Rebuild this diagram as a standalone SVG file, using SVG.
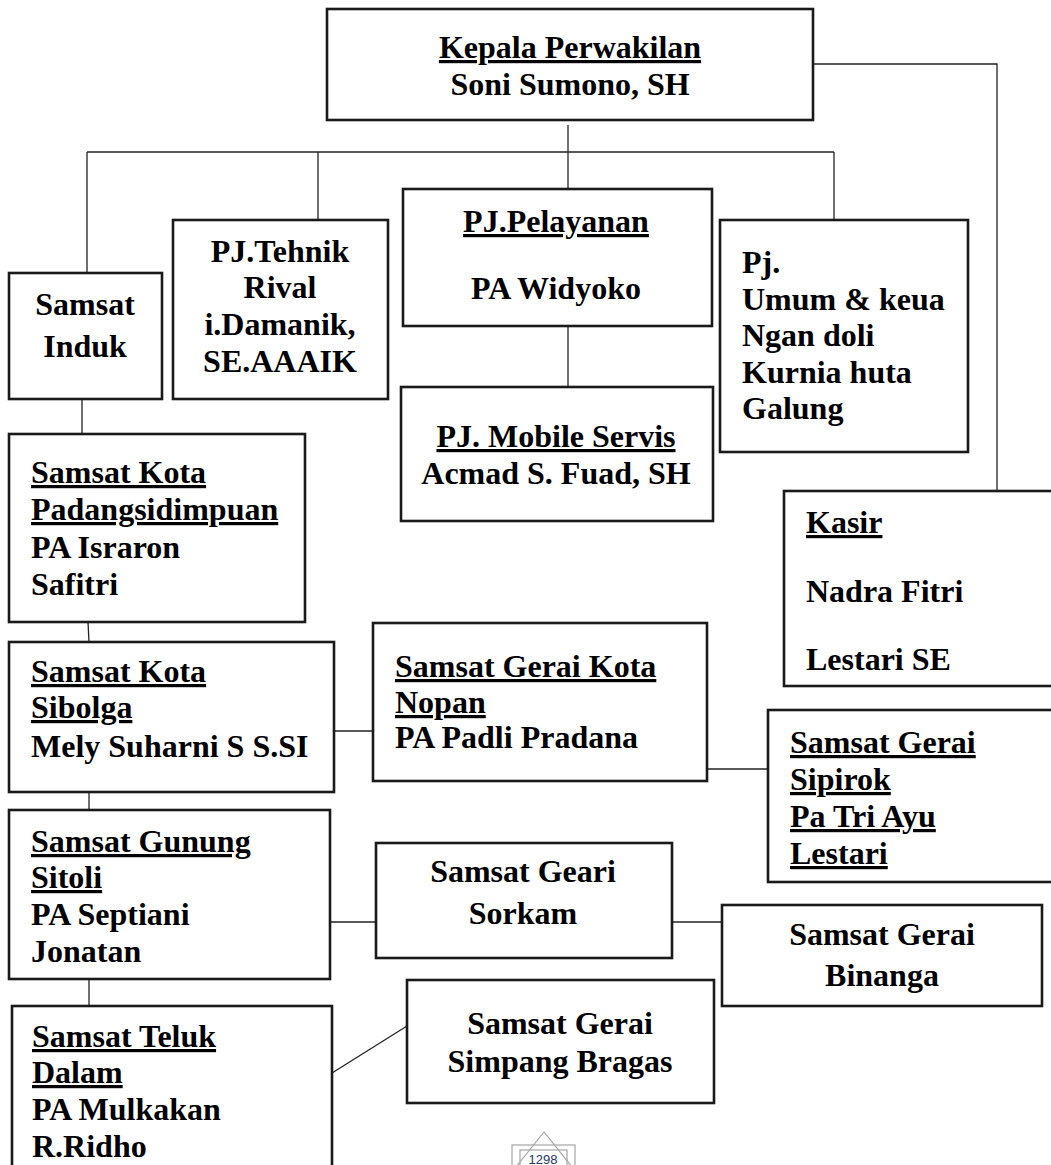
<svg xmlns="http://www.w3.org/2000/svg" width="1051" height="1165" viewBox="0 0 1051 1165">
<style>
.box{fill:#fff;stroke:#1a1a1a;stroke-width:2.6}
.ln{fill:none;stroke:#222;stroke-width:1.3}
.t{font-family:"Liberation Serif","Times New Roman",serif;font-weight:bold;font-size:32px;fill:#000}
.c{text-anchor:middle}
.u{text-decoration:underline;text-decoration-thickness:2.5px}
</style>
<rect width="1051" height="1165" fill="#fff"/>
<g id="connectors">
<path class="ln" d="M813,64 H997 V491"/>
<path class="ln" d="M568,125 V152"/>
<path class="ln" d="M87,152 H834"/>
<path class="ln" d="M87,152 V273"/>
<path class="ln" d="M318,152 V220"/>
<path class="ln" d="M568,152 V189"/>
<path class="ln" d="M834,152 V220"/>
<path class="ln" d="M568,326 V387"/>
<path class="ln" d="M82,399 V434"/>
<path class="ln" d="M88,622 L89,642"/>
<path class="ln" d="M89,782 V810"/>
<path class="ln" d="M89,979 V1006"/>
<path class="ln" d="M334,731 H373"/>
<path class="ln" d="M707,769 H768"/>
<path class="ln" d="M330,922 H376"/>
<path class="ln" d="M672,922 H722"/>
<path class="ln" d="M332,1073 L407,1026"/>
</g>
<g id="kepala">
<rect class="box" x="327" y="9" width="486" height="111"/>
<text class="t c u" x="570" y="58">Kepala Perwakilan</text>
<text class="t c" x="570" y="95">Soni Sumono, SH</text>
</g>
<g id="samsat-induk">
<rect class="box" x="9" y="273" width="153" height="126"/>
<text class="t c" x="85" y="315">Samsat</text>
<text class="t c" x="85" y="357">Induk</text>
</g>
<g id="pj-tehnik">
<rect class="box" x="173" y="220" width="215" height="179"/>
<text class="t c" x="280" y="262">PJ.Tehnik</text>
<text class="t c" x="280" y="298">Rival</text>
<text class="t c" x="280" y="335">i.Damanik,</text>
<text class="t c" x="280" y="372">SE.AAAIK</text>
</g>
<g id="pj-pelayanan">
<rect class="box" x="403" y="189" width="309" height="137"/>
<text class="t c u" x="556" y="232">PJ.Pelayanan</text>
<text class="t c" x="556" y="299">PA Widyoko</text>
</g>
<g id="pj-mobile">
<rect class="box" x="401" y="387" width="312" height="134"/>
<text class="t c u" x="556" y="447">PJ. Mobile Servis</text>
<text class="t c" x="556" y="484">Acmad S. Fuad, SH</text>
</g>
<g id="pj-umum">
<rect class="box" x="720" y="220" width="248" height="232"/>
<text class="t" x="742" y="273">Pj.</text>
<text class="t" x="742" y="310">Umum &amp; keua</text>
<text class="t" x="742" y="346">Ngan doli</text>
<text class="t" x="742" y="383">Kurnia huta</text>
<text class="t" x="742" y="419">Galung</text>
</g>
<g id="kasir">
<rect class="box" x="784" y="491" width="290" height="195"/>
<text class="t u" x="806" y="533">Kasir</text>
<text class="t" x="806" y="602">Nadra Fitri</text>
<text class="t" x="806" y="670">Lestari SE</text>
</g>
<g id="samsat-padangsidimpuan">
<rect class="box" x="9" y="434" width="296" height="188"/>
<text class="t u" x="31" y="483">Samsat Kota</text>
<text class="t u" x="31" y="520">Padangsidimpuan</text>
<text class="t" x="31" y="558">PA Israron</text>
<text class="t" x="31" y="595">Safitri</text>
</g>
<g id="samsat-sibolga">
<rect class="box" x="9" y="642" width="325" height="150"/>
<text class="t u" x="31" y="682">Samsat Kota</text>
<text class="t u" x="31" y="718">Sibolga</text>
<text class="t" x="31" y="757">Mely Suharni S S.SI</text>
</g>
<g id="gerai-nopan">
<rect class="box" x="373" y="623" width="334" height="158"/>
<text class="t u" x="395" y="677">Samsat Gerai Kota</text>
<text class="t u" x="395" y="713">Nopan</text>
<text class="t" x="395" y="748">PA Padli Pradana</text>
</g>
<g id="gerai-sipirok">
<rect class="box" x="768" y="710" width="300" height="172"/>
<text class="t u" x="790" y="753">Samsat Gerai</text>
<text class="t u" x="790" y="790">Sipirok</text>
<text class="t u" x="790" y="827">Pa Tri Ayu</text>
<text class="t u" x="790" y="864">Lestari</text>
</g>
<g id="samsat-gunung-sitoli">
<rect class="box" x="9" y="810" width="321" height="169"/>
<text class="t u" x="31" y="852">Samsat Gunung</text>
<text class="t u" x="31" y="888">Sitoli</text>
<text class="t" x="31" y="925">PA Septiani</text>
<text class="t" x="31" y="962">Jonatan</text>
</g>
<g id="geari-sorkam">
<rect class="box" x="376" y="843" width="296" height="115"/>
<text class="t c" x="523" y="882">Samsat Geari</text>
<text class="t c" x="523" y="924">Sorkam</text>
</g>
<g id="gerai-binanga">
<rect class="box" x="722" y="905" width="320" height="101"/>
<text class="t c" x="882" y="945">Samsat Gerai</text>
<text class="t c" x="882" y="986">Binanga</text>
</g>
<g id="samsat-teluk-dalam">
<rect class="box" x="12" y="1006" width="320" height="175"/>
<text class="t u" x="32" y="1047">Samsat Teluk</text>
<text class="t u" x="32" y="1083">Dalam</text>
<text class="t" x="32" y="1120">PA Mulkakan</text>
<text class="t" x="32" y="1157">R.Ridho</text>
</g>
<g id="gerai-simpang-bragas">
<rect class="box" x="407" y="980" width="307" height="123"/>
<text class="t c" x="560" y="1034">Samsat Gerai</text>
<text class="t c" x="560" y="1072">Simpang Bragas</text>
</g>
<g id="logo" fill="none" stroke="#a6a6a6" stroke-width="1.2">
<polygon points="544,1132 512,1172 576,1172"/>
<rect x="512" y="1145" width="63" height="30"/>
<rect x="520" y="1150" width="47" height="25"/>
<text x="543" y="1164" font-family="'Liberation Sans',Arial,sans-serif" font-size="13" fill="#1f3864" stroke="none" text-anchor="middle">1298</text>
</g>
</svg>
